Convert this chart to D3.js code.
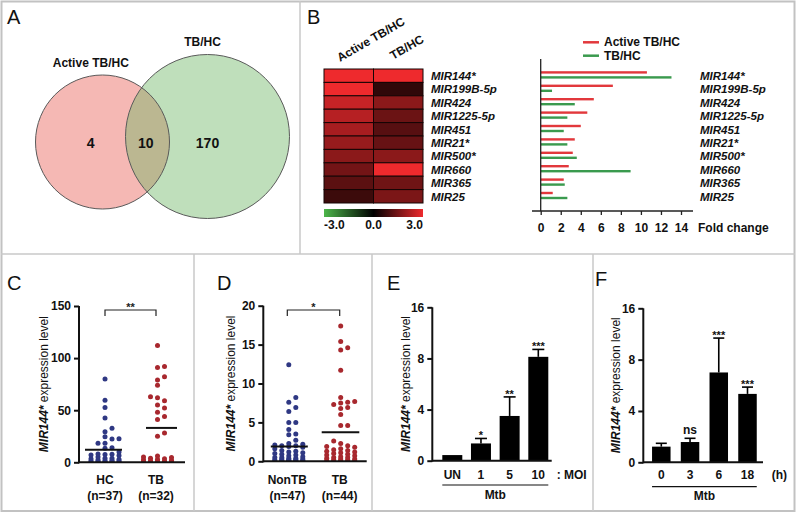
<!DOCTYPE html>
<html><head><meta charset="utf-8">
<script src="https://cdn.jsdelivr.net/npm/d3@7"></script>
<style>
body{margin:0;background:#fff}
svg{display:block}
text{font-family:"Liberation Sans",Arial,Helvetica,sans-serif}
</style>
</head><body>
<svg id="c" width="796" height="513"></svg>
<script>
// ---------------- DATA ----------------
const vennSets = ["Active TB/HC", "TB/HC"];
const vennCounts = [4, 10, 170];           // only active, both, only TB

const heatCols = ["Active TB/HC", "TB/HC"];
const mirNames = ["MIR144*","MIR199B-5p","MIR424","MIR1225-5p","MIR451","MIR21*","MIR500*","MIR660","MIR365","MIR25"];
const heatActive = [3.0, 3.0, 2.5, 2.3, 2.1, 1.9, 1.75, 1.45, 1.15, 0.75];
const heatTB     = [3.0, 0.6, 1.75, 1.35, 1.1, 1.3, 1.75, 3.0, 1.4, 1.55];
const heatTicks  = [-3.0, 0.0, 3.0];
const foldActive = [10.6, 7.2, 5.3, 4.65, 4.0, 3.4, 3.2, 2.8, 2.3, 1.2];
const foldTB     = [13.05, 1.13, 3.4, 2.66, 2.3, 2.66, 3.6, 8.97, 2.4, 2.66];
const foldTicks  = [0, 2, 4, 6, 8, 10, 12, 14];

const cCats = ["HC", "TB"];
const cN = ["(n=37)", "(n=32)"];
const cHC = [80, 59.6, 52.5, 42.6, 32.7, 29.4, 24.6, 22.7, 22.3, 18.3, 18.3, 14, 13.5, 10, 8, 7.7, 7.5, 7, 6.5, 5,
             4, 3.8, 3.5, 3, 2.5, 2, 1.8, 1.5, 1.2, 1, 0.8, 0.5, 0.4, 0.3, 0.2, 0.1, 0];
const cTB = [112, 92, 91, 82, 79, 74, 63, 62, 59, 55, 52, 48, 44, 41, 28, 25,
             6, 5, 4.5, 4, 3.5, 3, 2.5, 2, 1.5, 1.2, 1, 0.8, 0.5, 0.3, 0.1, 0];
const cMeans = [12, 33];
const cTicks = [0, 50, 100, 150];

const dCats = ["NonTB", "TB"];
const dN = ["(n=47)", "(n=44)"];
const dNon = [12.4, 8.2, 7.6, 6.9, 6.4, 5.0, 5.0, 4.1, 3.5, 3.4,
              2.7, 2.3, 2.2, 2.1, 2.0, 2.0, 1.9, 1.8, 1.6, 1.4, 1.3, 1.2, 1.1, 1.0, 0.9, 0.8, 0.7, 0.6, 0.5, 0.5,
              0.4, 0.4, 0.3, 0.3, 0.2, 0.2, 0.2, 0.1, 0.1, 0.1, 0.1, 0.05, 0.05, 0.05, 0.05, 0.02, 0.02];
const dTB = [17.4, 15.4, 14.6, 14.3, 11.7, 8.2, 7.7, 7.6, 7.5, 7.3, 6.9, 6.8, 6.0, 4.6, 4.6,
             2.6, 2.3, 2.0, 1.9, 1.8, 1.6, 1.5, 1.4, 1.3, 1.2, 1.1, 1.0, 0.9, 0.8, 0.7, 0.6, 0.5, 0.5, 0.4, 0.3,
             0.3, 0.2, 0.2, 0.1, 0.1, 0.1, 0.05, 0.05, 0.02];
const dMeans = [1.9, 3.75];
const dTicks = [0, 5, 10, 15, 20];

const expTicks = [0, 4, 8, 16];
const eCats = ["UN", "1", "5", "10"];
const eVals = [0.44, 1.35, 3.5, 8.25];
const eErr  = [0, 0.39, 1.49, 1.16];
const eSig  = ["", "*", "**", "***"];
const fCats = ["0", "3", "6", "18"];
const fVals = [1.22, 1.58, 7.0, 5.33];
const fErr  = [0.26, 0.29, 4.36, 0.53];
const fSig  = ["", "ns", "***", "***"];

// ---------------- DRAW ----------------
const svg = d3.select("#c");
const defs = svg.append("defs");

// frame and separators
svg.append("rect").attr("x",1.5).attr("y",1.5).attr("width",793).attr("height",509.5)
  .attr("fill","none").attr("stroke","#c2c2c2").attr("stroke-width",2);
const sep = (x1,y1,x2,y2)=>svg.append("line").attr("x1",x1).attr("y1",y1).attr("x2",x2).attr("y2",y2)
  .attr("stroke","#c8c8c8").attr("stroke-width",1.5);
sep(300,1,300,254); sep(1,254,795,254);
sep(194,254,194,511); sep(372,254,372,511); sep(593,254,593,511);

// panel letters
[["A",7,24],["B",307,24],["C",7,290],["D",217,290],["E",387,290],["F",595,286]].forEach(([t,x,y])=>{
  svg.append("text").attr("x",x).attr("y",y).style("font-size","20px").attr("fill","#111").text(t);
});

// ---------- Panel A: Venn ----------
(function(){
  const g = svg.append("g");
  const cR = {x:102.5, y:142, r:67}, cG = {x:207.5, y:136.5, r:82};
  defs.append("clipPath").attr("id","clipR").append("circle").attr("cx",cR.x).attr("cy",cR.y).attr("r",cR.r);
  g.append("circle").attr("cx",cR.x).attr("cy",cR.y).attr("r",cR.r).attr("fill","#f5b8b4");
  g.append("circle").attr("cx",cG.x).attr("cy",cG.y).attr("r",cG.r).attr("fill","#bfdfbb");
  g.append("circle").attr("cx",cG.x).attr("cy",cG.y).attr("r",cG.r).attr("fill","#bbb791").attr("clip-path","url(#clipR)");
  [cR,cG].forEach(c=>g.append("circle").attr("cx",c.x).attr("cy",c.y).attr("r",c.r)
    .attr("fill","none").attr("stroke","#5a5a5a").attr("stroke-width",1));
  const bold = (t,x,y,s)=>g.append("text").attr("x",x).attr("y",y).attr("text-anchor","middle")
    .style("font-size",s+"px").style("font-weight","bold").attr("fill","#111").text(t);
  bold(vennSets[0], 90.8, 66.7, 12);
  bold(vennSets[1], 202.5, 45.7, 12);
  bold(vennCounts[0], 90.7, 147.7, 14);
  bold(vennCounts[1], 145.8, 147.7, 14);
  bold(vennCounts[2], 207.5, 147.7, 14);
})();

// ---------- Panel B: heatmap + bars ----------
(function(){
  const g = svg.append("g");
  const yRow = d3.scaleBand().domain(mirNames).range([69, 203]);
  const xHeat = d3.scaleBand().domain(heatCols).range([324, 423]);
  const heatColor = d3.scaleLinear().domain([-3,0,3]).range(["#4cb64a","#000000","#ee2a2d"]).clamp(true);
  const heatData = [heatActive, heatTB];
  heatCols.forEach((c,ci)=>{
    g.selectAll(null).data(mirNames).enter().append("rect")
      .attr("x", xHeat(c)).attr("y", d=>yRow(d)).attr("width", xHeat.bandwidth()).attr("height", yRow.bandwidth())
      .attr("fill", (d,i)=>heatColor(heatData[ci][i])).attr("stroke","#140404").attr("stroke-width",1);
  });
  // column labels
  const colAnchors = [[340,62],[393,60]];
  heatCols.forEach((c,i)=>{
    g.append("text").attr("transform",`translate(${colAnchors[i][0]},${colAnchors[i][1]}) rotate(-30)`)
      .style("font-size","12px").style("font-weight","bold").attr("fill","#111").text(c);
  });
  // color bar
  const grad = defs.append("linearGradient").attr("id","hg");
  heatTicks.forEach((t,i)=>grad.append("stop").attr("offset",(i/(heatTicks.length-1)*100)+"%").attr("stop-color",heatColor(t)));
  g.append("rect").attr("x",324).attr("y",209).attr("width",99).attr("height",8).attr("fill","url(#hg)");
  const anchors = ["start","middle","end"];
  const cbx = d3.scaleLinear().domain([-3,3]).range([324,423]);
  heatTicks.forEach((t,i)=>g.append("text").attr("x",cbx(t)).attr("y",229).attr("text-anchor",anchors[i])
    .style("font-size","12px").style("font-weight","bold").attr("fill","#111").text(t.toFixed(1)));
  // row labels
  [431, 700].forEach(x=>{
    g.selectAll(null).data(mirNames).enter().append("text")
      .attr("x",x).attr("y",d=>yRow(d)+11).style("font-size","11.5px").style("font-weight","bold")
      .style("font-style","italic").attr("fill","#111").text(d=>d);
  });
  // bar chart
  const xFold = d3.scaleLinear().domain([0,14]).range([540.7, 681]);
  const red = "#e2383c", green = "#3a9a4e";
  g.selectAll(null).data(mirNames).enter().append("rect")
    .attr("x", xFold(0)).attr("y", d=>yRow(d)+2.2).attr("height",2.4)
    .attr("width",(d,i)=>xFold(foldActive[i])-xFold(0)).attr("fill",red);
  g.selectAll(null).data(mirNames).enter().append("rect")
    .attr("x", xFold(0)).attr("y", d=>yRow(d)+7.2).attr("height",2.4)
    .attr("width",(d,i)=>xFold(foldTB[i])-xFold(0)).attr("fill",green);
  g.append("line").attr("x1",xFold(0)).attr("x2",xFold(0)).attr("y1",59).attr("y2",211).attr("stroke","#222").attr("stroke-width",1.3);
  g.append("line").attr("x1",532).attr("x2",693).attr("y1",211).attr("y2",211).attr("stroke","#222").attr("stroke-width",1.3);
  const ax = g.append("g").attr("transform","translate(0,211)")
    .call(d3.axisBottom(xFold).tickValues(foldTicks).tickSize(4).tickPadding(8.5));
  ax.select(".domain").remove();
  ax.selectAll("line").attr("stroke","#222").attr("stroke-width",1.3);
  ax.selectAll("text").style("font-size","12px").style("font-weight","bold").attr("fill","#111");
  g.append("text").attr("x",698).attr("y",232).style("font-size","12px").style("font-weight","bold").attr("fill","#111").text("Fold change");
  // legend
  [[heatCols[0],red,42.3,46],[heatCols[1],green,55.7,59.5]].forEach(([t,c,ly,ty])=>{
    g.append("line").attr("x1",583).attr("x2",599).attr("y1",ly).attr("y2",ly).attr("stroke",c).attr("stroke-width",2.5);
    g.append("text").attr("x",604).attr("y",ty).style("font-size","12px").style("font-weight","bold").attr("fill","#111").text(t);
  });
})();

// ---------- helpers ----------
function yLabel(g, x, cy){
  const t = g.append("text").attr("transform",`translate(${x},${cy}) rotate(-90)`).attr("text-anchor","middle")
    .style("font-size","12px").attr("fill","#111");
  t.append("tspan").style("font-style","italic").style("font-weight","bold").text("MIR144*");
  t.append("tspan").text(" expression level");
}
function leftAxis(g, y, x, ticks, yTop, yBot){
  g.append("line").attr("x1",x).attr("x2",x).attr("y1",yTop).attr("y2",yBot+1).attr("stroke","#111").attr("stroke-width",2);
  const a = g.append("g").attr("transform",`translate(${x},0)`)
    .call(d3.axisLeft(y).tickValues(ticks).tickSize(5).tickPadding(3).tickFormat(d3.format("d")));
  a.select(".domain").remove();
  a.selectAll("line").attr("stroke","#111").attr("stroke-width",2);
  a.selectAll("text").style("font-size","12px").style("font-weight","bold").attr("fill","#111");
}
function swarm(vals, y, cx, colStep, maxCol, minDy){
  const idx = d3.range(vals.length).sort((a,b)=>vals[a]-vals[b]);
  const cols = new Map();
  const order = [0]; for (let k=1;k<=maxCol;k++) order.push(k,-k);
  const out = [];
  for (const i of idx){
    const py = y(vals[i]);
    let chosen = null, bestGap = -1, bestCol = 0;
    for (const c of order){
      const ys = cols.get(c) || [];
      const gap = ys.length ? d3.min(ys, q=>Math.abs(q-py)) : Infinity;
      if (gap >= minDy){ chosen = c; break; }
      if (gap > bestGap){ bestGap = gap; bestCol = c; }
    }
    if (chosen === null) chosen = bestCol;
    if (!cols.has(chosen)) cols.set(chosen, []);
    cols.get(chosen).push(py);
    out.push({x: cx + chosen*colStep, y: py});
  }
  return out;
}

// ---------- Panels C, D: scatter ----------
function scatterPanel(o){
  const g = svg.append("g");
  const y = d3.scaleLinear().domain([0, o.ticks[o.ticks.length-1]]).range([o.yBot, o.yTop]);
  const x = d3.scalePoint().domain(o.cats).range(o.centers);
  const clipId = "clip"+o.id;
  defs.append("clipPath").attr("id",clipId).append("rect").attr("x",o.x0).attr("y",o.yTop-10)
    .attr("width",o.x1-o.x0).attr("height",o.yBot-o.yTop+10);
  const colors = ["#2f3883","#a8282e"];
  o.groups.forEach((vals,gi)=>{
    const pts = swarm(vals, y, x(o.cats[gi]) + o.shift[gi], 7, 2, 5);
    g.append("g").attr("clip-path",`url(#${clipId})`).selectAll("circle").data(pts).enter().append("circle")
      .attr("cx",d=>d.x).attr("cy",d=>d.y).attr("r",2.5).attr("fill",colors[gi]);
    g.append("line").attr("x1",x(o.cats[gi])+o.meanL[gi]).attr("x2",x(o.cats[gi])+o.meanR[gi])
      .attr("y1",y(o.means[gi])).attr("y2",y(o.means[gi])).attr("stroke","#111").attr("stroke-width",2);
  });
  leftAxis(g, y, o.x0, o.ticks, o.yTop, o.yBot);
  g.append("line").attr("x1",o.x0).attr("x2",o.x1).attr("y1",o.yBot).attr("y2",o.yBot).attr("stroke","#111").attr("stroke-width",2);
  o.cats.forEach((c,i)=>{
    g.append("text").attr("x",x(c)).attr("y",484).attr("text-anchor","middle").style("font-size","12px").style("font-weight","bold").attr("fill","#111").text(c);
    g.append("text").attr("x",x(c)).attr("y",499.5).attr("text-anchor","middle").style("font-size","12px").style("font-weight","bold").attr("fill","#111").text(o.ns[i]);
  });
  // significance bracket
  const bx0 = x(o.cats[0]), bx1 = x(o.cats[1]), by = 310;
  g.append("path").attr("d",`M${bx0},${by+6}V${by}H${bx1}V${by+6}`).attr("fill","none").attr("stroke","#222").attr("stroke-width",1.2);
  g.append("text").attr("x",(bx0+bx1)/2).attr("y",by+1).attr("text-anchor","middle").style("font-size","11px").style("font-weight","bold").attr("fill","#222").text(o.sig);
  yLabel(g, o.labelX, (o.yTop+o.yBot)/2);
}
scatterPanel({id:"C", cats:cCats, ns:cN, groups:[cHC,cTB], means:cMeans, ticks:cTicks,
  yTop:306, yBot:462.3, x0:79, x1:185, centers:[105,156], shift:[0,1.5], meanL:[-20,-10], meanR:[17,21], sig:"**", labelX:48});
scatterPanel({id:"D", cats:dCats, ns:dN, groups:[dNon,dTB], means:dMeans, ticks:dTicks,
  yTop:305.7, yBot:461.3, x0:263.3, x1:366.7, centers:[287.3,339.7], shift:[1.5,1], meanL:[-16.5,-18], meanR:[20.5,19.6], sig:"*", labelX:235});

// ---------- Panels E, F: bars ----------
function barPanel(o){
  const g = svg.append("g");
  const y = d3.scaleLinear().domain(expTicks).range(expTicks.map((d,i)=>o.yBot - i*(o.yBot-o.yTop)/(expTicks.length-1)));
  const x = d3.scalePoint().domain(o.cats).range(o.centers);
  g.selectAll(null).data(o.cats).enter().append("rect")
    .attr("x",d=>x(d)-o.bw/2).attr("width",o.bw)
    .attr("y",(d,i)=>y(o.vals[i])).attr("height",(d,i)=>o.yBot-y(o.vals[i])).attr("fill","#000");
  o.cats.forEach((c,i)=>{
    if (o.errs[i] > 0){
      const yt = y(o.vals[i]+o.errs[i]);
      g.append("line").attr("x1",x(c)).attr("x2",x(c)).attr("y1",y(o.vals[i])).attr("y2",yt).attr("stroke","#000").attr("stroke-width",1.6);
      g.append("line").attr("x1",x(c)-o.cap/2).attr("x2",x(c)+o.cap/2).attr("y1",yt).attr("y2",yt).attr("stroke","#000").attr("stroke-width",1.6);
    }
    const top = y(o.vals[i]+o.errs[i]);
    if (o.sigs[i] === "ns"){
      g.append("text").attr("x",x(c)).attr("y",top-4).attr("text-anchor","middle").style("font-size","12px").style("font-weight","bold").attr("fill","#111").text("ns");
    } else if (o.sigs[i]){
      g.append("text").attr("x",x(c)).attr("y",top+1).attr("text-anchor","middle").style("font-size","11px").style("font-weight","bold").attr("fill","#111").text(o.sigs[i]);
    }
    g.append("text").attr("x",x(c)).attr("y",o.catY).attr("text-anchor","middle").style("font-size","12px").style("font-weight","bold").attr("fill","#111").text(c);
  });
  leftAxis(g, y, o.x0, expTicks, o.yTop, o.yBot);
  g.append("line").attr("x1",o.x0).attr("x2",o.x1).attr("y1",o.yBot).attr("y2",o.yBot).attr("stroke","#111").attr("stroke-width",2);
  g.append("text").attr("x",o.unitX).attr("y",o.catY).style("font-size","12px").style("font-weight","bold").attr("fill","#111").text(o.unit);
  const lx0 = x(o.cats[0])-o.bw/2, lx1 = x(o.cats[o.cats.length-1])+o.bw/2;
  g.append("line").attr("x1",lx0).attr("x2",lx1).attr("y1",o.lineY).attr("y2",o.lineY).attr("stroke","#111").attr("stroke-width",1.2);
  g.append("text").attr("x",(lx0+lx1)/2).attr("y",o.mtbY).attr("text-anchor","middle").style("font-size","12px").style("font-weight","bold").attr("fill","#111").text("Mtb");
  yLabel(g, o.labelX, (o.yTop+o.yBot)/2);
}
barPanel({cats:eCats, vals:eVals, errs:eErr, sigs:eSig, yTop:307.3, yBot:460.7, x0:432.3, x1:551.7,
  centers:[452.3,538.3], bw:20, cap:12, catY:479, unit:": MOI", unitX:556.7, lineY:485, mtbY:498.5, labelX:410});
barPanel({cats:fCats, vals:fVals, errs:fErr, sigs:fSig, yTop:308.3, yBot:462.3, x0:643.3, x1:763,
  centers:[661.3,747.5], bw:18.5, cap:11, catY:478.5, unit:"(h)", unitX:771.7, lineY:486.7, mtbY:500, labelX:620});
</script>
</body></html>
